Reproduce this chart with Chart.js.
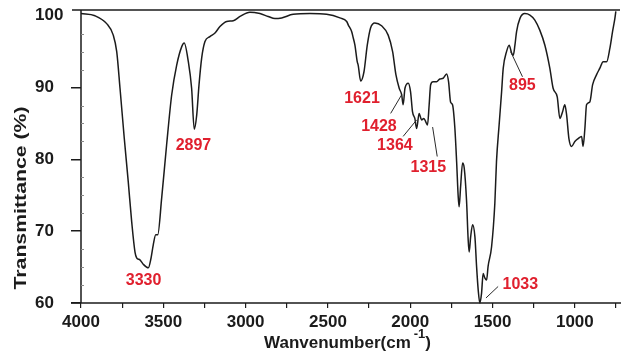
<!DOCTYPE html>
<html>
<head>
<meta charset="utf-8">
<script src="https://cdn.jsdelivr.net/npm/chart.js@4.4.1/dist/chart.umd.min.js"></script>
<style>
  html, body { margin: 0; padding: 0; background: #ffffff; }
  #wrap { position: relative; width: 621px; height: 354px; }
</style>
</head>
<body>
<div id="wrap"><canvas id="ftir"></canvas></div>
<script>
// FTIR spectrum: wavenumber (cm-1) against transmittance (%)
const wavenumber = [
  4000, 3915, 3844, 3804, 3783, 3763, 3737, 3713, 3692, 3672,
  3662, 3642, 3622, 3591, 3575, 3561, 3546, 3534, 3510, 3480,
  3449, 3419, 3388, 3373, 3348, 3328, 3312, 3297, 3283, 3267,
  3247, 3217, 3186, 3156, 3115, 3075, 3034, 2974, 2913, 2863,
  2822, 2781, 2711, 2609, 2508, 2427, 2386, 2376, 2356, 2346,
  2336, 2322, 2316, 2301, 2281, 2261, 2241, 2215, 2174, 2134,
  2107, 2087, 2067, 2052, 2043, 2032, 2012, 1998, 1986, 1972,
  1961, 1946, 1931, 1917, 1905, 1895, 1885, 1876, 1861, 1840,
  1820, 1800, 1779, 1767, 1755, 1743, 1729, 1718, 1709, 1703,
  1694, 1682, 1672, 1658, 1648, 1642, 1633, 1621, 1607, 1597,
  1587, 1577, 1567, 1557, 1547, 1536, 1527, 1506, 1486, 1476,
  1460, 1445, 1435, 1415, 1399, 1384, 1374, 1364, 1354, 1334,
  1304, 1273, 1243, 1213, 1182, 1152, 1132, 1107, 1091, 1075,
  1061, 1050, 1036, 1020, 1000, 980, 959, 950, 939, 929,
  909, 892, 868, 848, 828, 807, 787, 771, 757, 751
];

const transmittance = [
  100.3, 100.0, 98.9, 97.3, 95.0, 89.9, 82.9, 76.9, 71.3, 67.1,
  66.3, 66.0, 65.4, 64.9, 66.2, 68.1, 69.5, 69.5, 74.6, 82.0,
  89.0, 93.1, 95.7, 96.2, 93.6, 89.9, 84.2, 86.2, 90.4, 94.1,
  96.4, 97.1, 97.6, 98.5, 99.2, 99.3, 99.9, 100.5, 100.3, 99.9,
  99.6, 99.7, 100.2, 100.3, 100.2, 99.7, 99.2, 98.7, 97.8, 96.9,
  95.9, 93.6, 93.1, 90.9, 92.2, 95.9, 98.3, 99.0, 98.6, 97.3,
  95.0, 91.8, 89.9, 89.0, 87.6, 89.9, 90.6, 89.4, 86.6, 85.7,
  84.3, 86.4, 85.5, 85.7, 85.2, 84.8, 87.6, 90.4, 90.8, 90.8,
  91.2, 91.3, 91.9, 90.8, 88.0, 87.6, 84.4, 79.6, 75.0, 73.4,
  76.2, 79.5, 78.8, 74.3, 68.8, 67.1, 69.2, 70.9, 69.2, 65.1,
  61.8, 60.0, 61.3, 64.1, 63.5, 63.2, 65.1, 67.8, 73.9, 79.7,
  84.8, 89.4, 92.7, 95.0, 95.9, 94.8, 94.5, 95.9, 97.8, 99.6,
  100.3, 100.1, 99.4, 98.0, 95.9, 92.7, 89.9, 88.7, 85.7, 86.6,
  87.6, 86.2, 82.9, 81.8, 82.5, 82.9, 83.2, 81.8, 84.3, 87.6,
  88.0, 90.4, 91.8, 92.7, 93.6, 93.6, 95.5, 97.8, 99.6, 100.6
];

// Axis ticks
const xLabelTicks = [4000, 3500, 3000, 2500, 2000, 1500, 1000];
const yLabelTicks = [60, 70, 80, 90, 100];

// Band assignments written next to the spectrum
const bandText = ['3330', '2897', '1621', '1428', '1364', '1315', '895', '1033'];
// text centre, in axis units (wavenumber, transmittance)
const bandTextAt = [
  [3620, 63.1], [3317, 81.9], [2293, 88.4], [2190, 84.5],
  [2093, 81.9], [1890, 78.8], [1319, 90.3], [1331, 62.5]
];
// leader lines from text to band, in axis units; null where no line is drawn
const bandLeader = [
  null, null, null,
  [[2119, 86.4], [2052, 89.0]],
  [[2043, 83.2], [1961, 85.5]],
  [[1864, 84.5], [1836, 80.4]],
  [[1390, 95.0], [1318, 91.5]],
  [[1540, 60.7], [1466, 62.3]]
];

const FONT = "'Liberation Sans', Arial, Helvetica, sans-serif";
const INK = '#1b1b1b';
const BAND_RED = '#e0202e';

const spectrum = wavenumber.map((w, i) => ({ x: w, y: transmittance[i] }));

const framePlugin = {
  id: 'frame',
  afterDraw(chart) {
    const { ctx, chartArea: a, scales } = chart;
    const xs = scales.x, ys = scales.y;
    ctx.save();
    ctx.strokeStyle = INK;
    ctx.lineWidth = 1.5;
    ctx.beginPath();
    // top rule
    ctx.moveTo(a.left - 9, a.top); ctx.lineTo(a.right + 4, a.top);
    // bottom axis
    ctx.moveTo(a.left - 10, a.bottom); ctx.lineTo(a.right + 5, a.bottom);
    // left axis
    ctx.moveTo(a.left, a.top); ctx.lineTo(a.left, a.bottom);
    ctx.stroke();

    // small inner minor ticks on the transmittance axis
    ctx.strokeStyle = '#8a8a8a';
    ctx.lineWidth = 1;
    ctx.beginPath();
    for (let v = 62.5; v < 100.5; v += 2.5) {
      if (v % 10 === 0) continue;
      const y = Math.round(ys.getPixelForValue(v)) + 0.5;
      ctx.moveTo(a.left, y); ctx.lineTo(a.left + 3, y);
    }
    ctx.stroke();

    // band labels
    ctx.font = 'bold 16px ' + FONT;
    ctx.fillStyle = BAND_RED;
    ctx.textAlign = 'center';
    ctx.textBaseline = 'middle';
    bandText.forEach((t, i) => {
      const [w, v] = bandTextAt[i];
      ctx.fillText(t, xs.getPixelForValue(w), ys.getPixelForValue(v));
    });
    ctx.strokeStyle = '#2a2a2a';
    ctx.lineWidth = 1;
    ctx.beginPath();
    bandLeader.forEach(seg => {
      if (!seg) return;
      ctx.moveTo(xs.getPixelForValue(seg[0][0]), ys.getPixelForValue(seg[0][1]));
      ctx.lineTo(xs.getPixelForValue(seg[1][0]), ys.getPixelForValue(seg[1][1]));
    });
    ctx.stroke();

    // x-axis title with superscript
    const main = 'Wanvenumber(cm', sup = '-1', close = ')';
    ctx.textAlign = 'left';
    ctx.textBaseline = 'alphabetic';
    ctx.fillStyle = INK;
    ctx.font = 'bold 17px ' + FONT;
    const w1 = ctx.measureText(main).width;
    const w3 = ctx.measureText(close).width;
    ctx.font = 'bold 13px ' + FONT;
    const w2 = ctx.measureText(sup).width;
    const gap = 3;
    let x = 347.5 - (w1 + gap + w2 + w3) / 2;
    const base = a.bottom + 45;
    ctx.font = 'bold 17px ' + FONT;
    ctx.fillText(main, x, base);
    x += w1 + gap;
    ctx.font = 'bold 13px ' + FONT;
    ctx.fillText(sup, x, base - 10);
    x += w2;
    ctx.font = 'bold 17px ' + FONT;
    ctx.fillText(close, x, base);

    // y-axis title, rotated
    ctx.save();
    ctx.translate(22, 198);
    ctx.rotate(-Math.PI / 2);
    ctx.font = 'bold 16px ' + FONT;
    const yt = 'Transmittance (%)';
    const tw = ctx.measureText(yt).width;
    ctx.scale(183 / tw, 1);
    ctx.textAlign = 'center';
    ctx.textBaseline = 'middle';
    ctx.fillText(yt, 0, 0);
    ctx.restore();

    ctx.restore();
  }
};

new Chart(document.getElementById('ftir'), {
  type: 'line',
  data: {
    datasets: [{
      data: spectrum,
      borderColor: INK,
      borderWidth: 1.5,
      pointRadius: 0,
      fill: false,
      cubicInterpolationMode: 'monotone',
      clip: 3
    }]
  },
  options: {
    responsive: true,
    maintainAspectRatio: false,
    animation: false,
    events: [],
    layout: { padding: { left: 35, right: 5, top: 10, bottom: 0 } },
    plugins: { legend: { display: false }, tooltip: { enabled: false }, title: { display: false } },
    scales: {
      x: {
        type: 'linear',
        reverse: true,
        min: 750,
        max: 4000,
        afterBuildTicks(scale) {
          const t = [];
          for (let w = 4000; w >= 750; w -= 250) t.push({ value: w });
          scale.ticks = t;
        },
        afterFit(scale) {
          scale.height = 51;
          scale.paddingLeft = 0; scale.paddingRight = 0;
        },
        border: { display: false },
        grid: { drawOnChartArea: false, drawTicks: true, tickLength: 5, color: INK, lineWidth: 1.2 },
        ticks: {
          autoSkip: false,
          maxRotation: 0,
          padding: 4,
          color: INK,
          font: { family: FONT, size: 17, weight: 'bold' },
          callback: v => (xLabelTicks.includes(v) ? String(v) : '')
        }
      },
      y: {
        type: 'linear',
        min: 60,
        max: 100.8,
        afterBuildTicks(scale) { scale.ticks = yLabelTicks.map(v => ({ value: v })); },
        afterFit(scale) {
          scale.width = 46;
          scale.paddingTop = 0; scale.paddingBottom = 0;
        },
        border: { display: false },
        grid: {
          drawOnChartArea: false,
          drawTicks: true,
          tickLength: 10,
          lineWidth: 1.5,
          color: c => (c.tick && c.tick.value === 100 ? 'rgba(0,0,0,0)' : INK)
        },
        ticks: {
          crossAlign: 'far',
          padding: 8,
          color: INK,
          font: { family: FONT, size: 17, weight: 'bold' },
          callback: v => String(v)
        }
      }
    }
  },
  plugins: [framePlugin]
});
</script>
</body>
</html>
